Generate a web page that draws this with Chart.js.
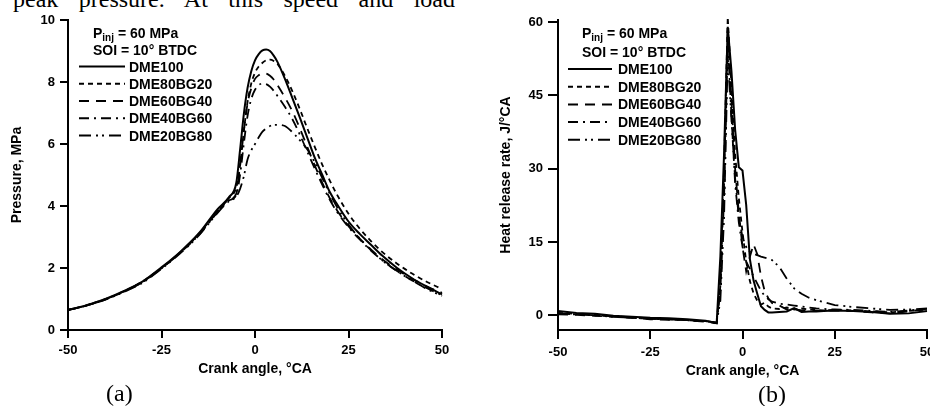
<!doctype html>
<html>
<head>
<title>Pressure and heat release rate</title>
<script src="https://cdn.jsdelivr.net/npm/chart.js@4.4.1/dist/chart.umd.min.js"></script>
<style>
  body { margin: 0; background: #fff; width: 930px; height: 406px; overflow: hidden; position: relative; }
  canvas { position: absolute; top: 0; }
  .serif { position: absolute; font-family: "Liberation Serif", serif; font-size: 24px; line-height: 24px; color: #000; white-space: nowrap; }
</style>
</head>
<body>
<div class="serif" style="left:13px; top:-13px; width:442px; text-align:justify; text-align-last:justify;">peak pressure. At this speed and load</div>
<canvas id="chartA" width="465" height="406" style="left:0px; width:465px; height:406px;"></canvas>
<canvas id="chartB" width="465" height="406" style="left:465px; width:465px; height:406px;"></canvas>
<div class="serif" style="left:106px; top:381px;">(a)</div>
<div class="serif" style="left:758px; top:382px;">(b)</div>

<script>
// ---- data ----
var seriesNames = ['DME100', 'DME80BG20', 'DME60BG40', 'DME40BG60', 'DME20BG80'];
var xTicks = [-50, -25, 0, 25, 50];
var yTicksP = [0, 2, 4, 6, 8, 10];
var yTicksH = [0, 15, 30, 45, 60];

// (a) cylinder pressure, MPa
var angleP = [-50, -45, -40, -35, -30, -25, -20, -15, -10, -7, -5, -4, -3, -2, -1, 0, 1, 2, 3, 4, 5, 6, 8, 10, 12, 14, 16, 18, 20, 22, 25, 28, 31, 34, 38, 42, 46, 50];
var pDME100    = [0.65, 0.80, 1.00, 1.26, 1.57, 2.02, 2.52, 3.12, 3.90, 4.28, 4.75, 5.80, 6.95, 7.80, 8.35, 8.70, 8.90, 9.02, 9.05, 9.00, 8.85, 8.65, 8.10, 7.48, 6.85, 6.20, 5.55, 5.00, 4.45, 4.05, 3.50, 3.10, 2.75, 2.40, 2.00, 1.67, 1.40, 1.15];
var pDME80BG20 = [0.65, 0.80, 1.00, 1.25, 1.57, 2.00, 2.50, 3.10, 3.85, 4.25, 4.60, 5.30, 6.40, 7.35, 7.95, 8.30, 8.50, 8.62, 8.70, 8.72, 8.68, 8.58, 8.20, 7.70, 7.12, 6.50, 5.90, 5.33, 4.82, 4.35, 3.75, 3.27, 2.87, 2.52, 2.14, 1.82, 1.55, 1.32];
var pDME60BG40 = [0.64, 0.79, 0.99, 1.25, 1.56, 2.00, 2.50, 3.08, 3.82, 4.20, 4.40, 5.30, 6.40, 7.30, 7.80, 8.10, 8.22, 8.28, 8.27, 8.20, 8.08, 7.90, 7.50, 7.05, 6.50, 5.90, 5.30, 4.75, 4.25, 3.85, 3.35, 2.95, 2.60, 2.28, 1.95, 1.65, 1.40, 1.20];
var pDME40BG60 = [0.64, 0.79, 0.99, 1.24, 1.55, 1.99, 2.49, 3.07, 3.80, 4.18, 4.35, 5.00, 6.00, 6.90, 7.45, 7.75, 7.90, 7.95, 7.93, 7.85, 7.72, 7.55, 7.20, 6.80, 6.30, 5.75, 5.20, 4.68, 4.20, 3.80, 3.32, 2.92, 2.56, 2.25, 1.90, 1.60, 1.35, 1.12];
var pDME20BG80 = [0.64, 0.79, 0.98, 1.23, 1.53, 1.97, 2.47, 3.05, 3.78, 4.15, 4.30, 4.55, 4.95, 5.50, 5.80, 6.00, 6.22, 6.40, 6.50, 6.58, 6.62, 6.62, 6.58, 6.38, 6.12, 5.82, 5.40, 4.90, 4.40, 3.95, 3.40, 2.95, 2.58, 2.25, 1.90, 1.60, 1.32, 1.10];

// (b) heat release rate, J/°CA
var angleH = [-50, -45, -40, -35, -30, -25, -20, -15, -10, -8, -7, -6, -5, -4, -3, -2, -1, 0, 1, 2, 3, 4, 5, 6, 7, 8, 10, 12, 14, 16, 18, 20, 22, 25, 30, 35, 40, 45, 50];
var hDME100    = [0.9, 0.5, 0.3, -0.1, -0.3, -0.5, -0.6, -0.8, -1.1, -1.4, -1.6, 12, 33, 59, 50, 38, 30.3, 29.6, 22.6, 11.5, 7.1, 4.4, 1.85, 1.1, 0.6, 0.6, 0.7, 0.8, 1.5, 0.7, 0.8, 0.8, 0.9, 1.0, 0.9, 0.7, 0.3, 0.4, 0.9];
var hDME80BG20 = [0.5, 0.3, 0.1, -0.2, -0.4, -0.6, -0.8, -1.0, -1.2, -1.5, -1.7, 8, 30, 61, 47, 33, 24, 17, 11, 7, 4.5, 3, 2.2, 2.6, 1.8, 1.4, 1.3, 1.6, 1.2, 1.4, 1.2, 1.1, 1.0, 1.1, 1.0, 0.8, 0.6, 0.9, 1.2];
var hDME60BG40 = [0.2, 0.1, -0.1, -0.3, -0.5, -0.8, -0.9, -1.0, -1.3, -1.5, -1.6, 6, 27, 59, 44, 30, 21, 14, 9, 12, 14.5, 12.5, 8, 5, 3.5, 2.5, 2.0, 1.2, 1.3, 1.0, 1.0, 0.9, 0.9, 1.0, 0.9, 0.6, 0.4, 0.8, 1.3];
var hDME40BG60 = [0.3, 0.2, 0.0, -0.2, -0.5, -0.7, -0.8, -1.0, -1.2, -1.4, -1.5, 5, 24, 56, 41, 27, 19, 14, 11, 9.5, 8, 6.5, 5, 4, 3.3, 2.8, 2.4, 2.2, 2.0, 1.8, 1.6, 1.4, 1.3, 1.2, 1.1, 0.9, 0.7, 1.0, 1.3];
var hDME20BG80 = [0.4, 0.2, 0.0, -0.3, -0.5, -0.7, -0.8, -1.0, -1.2, -1.4, -1.5, 3, 20, 53, 40, 28, 20, 16, 14, 13, 12.6, 12.3, 12, 11.8, 11.6, 11.3, 9.9, 7.5, 5.5, 4.4, 3.6, 3.1, 2.7, 2.1, 1.7, 1.4, 1.1, 1.2, 1.4];

// ---- styles ----
var FONT = '"Liberation Sans", Arial, sans-serif';
var dashes = [[], [5, 4], [10, 7], [10, 5, 2, 5], [12, 5, 2, 4, 2, 5]];

function pts(xs, ys) {
  return xs.map(function (x, i) { return { x: x, y: ys[i] }; });
}

// legend drawn inside the plot, with line samples
var inlineLegend = {
  id: 'inlineLegend',
  afterDraw: function (chart, args, o) {
    var ctx = chart.ctx;
    ctx.save();
    ctx.fillStyle = '#000';
    ctx.strokeStyle = '#000';
    ctx.textBaseline = 'alphabetic';
    ctx.textAlign = 'left';
    var big = 'bold 14px ' + FONT;
    ctx.font = big;
    var x = o.headX;
    ctx.fillText('P', x, o.head1);
    x += ctx.measureText('P').width;
    ctx.font = 'bold 10px ' + FONT;
    ctx.fillText('inj', x, o.head1 + 3);
    x += ctx.measureText('inj').width;
    ctx.font = big;
    ctx.fillText(' = 60 MPa', x, o.head1);
    ctx.fillText('SOI = 10\u00b0 BTDC', o.headX, o.head2);
    chart.data.datasets.forEach(function (ds, i) {
      var y = o.row0 + i * o.step;
      ctx.lineWidth = 2;
      ctx.setLineDash(ds.borderDash || []);
      ctx.beginPath();
      ctx.moveTo(o.lineX0, y - 5);
      ctx.lineTo(o.lineX1, y - 5);
      ctx.stroke();
      ctx.setLineDash([]);
      ctx.fillText(ds.label, o.textX, y);
    });
    ctx.restore();
  }
};

function makeChart(id, xs, ys, cfg) {
  var datasets = ys.map(function (arr, i) {
    return {
      label: seriesNames[i],
      data: pts(xs, arr),
      borderColor: '#000',
      borderWidth: i === 0 ? 2 : 1.8,
      borderDash: dashes[i],
      pointRadius: 0,
      fill: false,
      clip: false,
      tension: 0,
      cubicInterpolationMode: cfg.interp
    };
  });
  return new Chart(document.getElementById(id).getContext('2d'), {
    type: 'line',
    data: { datasets: datasets },
    plugins: [inlineLegend],
    options: {
      responsive: false,
      animation: false,
      devicePixelRatio: 1,
      layout: { padding: cfg.pad },
      plugins: {
        legend: { display: false },
        tooltip: { enabled: false },
        inlineLegend: cfg.legend
      },
      scales: {
        x: {
          type: 'linear',
          min: -50, max: 50,
          afterBuildTicks: function (s) { s.ticks = xTicks.map(function (v) { return { value: v }; }); },
          afterFit: function (s) { s.height = cfg.xHeight; s.paddingLeft = 0; s.paddingRight = 0; },
          grid: { display: true, drawOnChartArea: false, drawTicks: true, tickLength: cfg.xTick, lineWidth: 2, color: '#000' },
          border: { display: true, color: '#000', width: 2 },
          ticks: { color: '#000', padding: cfg.xPad, maxRotation: 0, font: { family: FONT, size: 13, weight: 'bold' } },
          title: { display: true, text: 'Crank angle, \u00b0CA', color: '#000', padding: 0, font: { family: FONT, size: 14, weight: 'bold' } }
        },
        y: {
          type: 'linear',
          min: cfg.yMin, max: cfg.yMax,
          afterBuildTicks: function (s) { s.ticks = cfg.yTicks.map(function (v) { return { value: v }; }); },
          afterFit: function (s) { s.width = cfg.yWidth; s.paddingTop = 0; s.paddingBottom = 0; },
          grid: { display: true, drawOnChartArea: false, drawTicks: true, tickLength: cfg.yTick, lineWidth: 2, color: '#000' },
          border: { display: true, color: '#000', width: 2 },
          ticks: { color: '#000', padding: 5, font: { family: FONT, size: 13, weight: 'bold' } },
          title: { display: true, text: cfg.yTitle, color: '#000', padding: 0, font: { family: FONT, size: 14, weight: 'bold' } }
        }
      }
    }
  });
}

makeChart('chartA', angleP, [pDME100, pDME80BG20, pDME60BG40, pDME40BG60, pDME20BG80], {
  interp: 'monotone',
  pad: { left: 9, right: 23, top: 20, bottom: 28 },
  xHeight: 48, xTick: 8, xPad: 5,
  yWidth: 59, yTick: 8,
  yMin: 0, yMax: 10, yTicks: yTicksP,
  yTitle: 'Pressure, MPa',
  legend: { headX: 93, head1: 38, head2: 55, row0: 71.5, step: 17.25, lineX0: 79, lineX1: 125, textX: 129 }
});

makeChart('chartB', angleH, [hDME100, hDME80BG20, hDME60BG40, hDME40BG60, hDME20BG80], {
  interp: 'default',
  pad: { left: 33, right: 3, top: 20, bottom: 26 },
  xHeight: 50, xTick: 9, xPad: 6,
  yWidth: 60, yTick: 10,
  yMin: -3, yMax: 60.4, yTicks: yTicksH,
  yTitle: 'Heat release rate, J/\u00b0CA',
  legend: { headX: 117, head1: 38, head2: 56.5, row0: 74, step: 17.7, lineX0: 103, lineX1: 147, textX: 153 }
});
</script>
</body>
</html>
